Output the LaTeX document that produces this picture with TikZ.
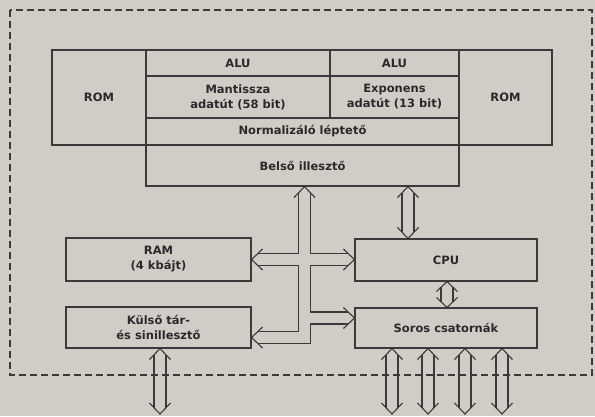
\documentclass[tikz,border=0pt]{standalone}
\usepackage{fontspec}
\setmainfont{DejaVu Sans}
\usetikzlibrary{calc}
\definecolor{bg}{RGB}{208,204,198}
\definecolor{ink}{RGB}{62,56,58}
\definecolor{txt}{RGB}{45,40,44}
% box from (x1,y1) to (x2,y2), y measured downward in px
\newcommand\blkbox[6]{%
  \node[blk, minimum width={(#4)-(#2)}, minimum height={(#5)-(#3)}]
    (#1) at ({((#2)+(#4))/2},{-((#3)+(#5))/2}) {#6};}
% two-headed hollow vertical arrow: optional head length, top tip, bottom tip
\newcommand\vdbl[3][11]{%
  \draw[wire] ($(#2)+(-10.5,-#1)$) -- (#2) -- ($(#2)+(10.5,-#1)$);
  \draw[wire] ($(#3)+(-10.5,#1)$) -- (#3) -- ($(#3)+(10.5,#1)$);
  \draw[wire] ($(#2)+(-6,{-#1*0.5714})$) -- ($(#3)+(-6,{#1*0.5714})$);
  \draw[wire] ($(#2)+(6,{-#1*0.5714})$) -- ($(#3)+(6,{#1*0.5714})$);}
\begin{document}
\begin{tikzpicture}[x=1pt,y=1pt,
  blk/.style={draw=ink, line width=1.1pt, rectangle, inner sep=0pt, align=center,
    text=txt, font=\bfseries\fontsize{11.5}{15}\selectfont},
  wire/.style={draw=ink, line width=1.1pt, line join=miter},
  frame/.style={draw=ink, line width=1.2pt, dash pattern=on 7pt off 4pt}]
\fill[bg] (0,0) rectangle (595,-416);
\useasboundingbox (0,0) rectangle (595,-416);
\draw[frame] (10,-10) rectangle (592,-375);

\blkbox{romL}{52}{50}{146}{145}{ROM}
\blkbox{aluA}{146}{50}{330}{76}{ALU}
\blkbox{mant}{146}{76}{330}{118}{Mantissza\\adatút (58 bit)}
\blkbox{aluB}{330}{50}{459}{76}{ALU}
\blkbox{expo}{330}{76}{459}{118}{Exponens\\adatút (13 bit)}
\blkbox{romR}{459}{50}{552}{145}{ROM}
\blkbox{norm}{146}{118}{459}{145}{Normalizáló léptető}
\blkbox{belso}{146}{145}{459}{186}{Belső illesztő}
\blkbox{ram}{66}{238}{251}{281}{RAM\\(4 kbájt)}
\blkbox{kulso}{66}{307}{251}{348}{Külső tár-\\és sinillesztő}
\blkbox{cpu}{355}{239}{537}{281}{CPU}
\blkbox{soros}{355}{308}{537}{348}{Soros csatornák}

% bus tips
\coordinate (busx) at (304.5,0);
\coordinate (T) at (belso.south -| busx);
\coordinate (R) at (ram.east);
\coordinate (C) at (cpu.west |- ram.east);
\coordinate (K) at ($(kulso.east)+(0,-10)$);
\coordinate (S) at ($(soros.west)+(0,10)$);

% bus outline
\draw[wire] ($(T)+(-6,-6.29)$) -- ($(T |- R)+(-6,6)$) -- ($(R)+(6.29,6)$);
\draw[wire] ($(R)+(6.29,-6)$) -- ($(T |- R)+(-6,-6)$) -- ($(T |- K)+(-6,6)$) -- ($(K)+(6.29,6)$);
\draw[wire] ($(K)+(6.29,-6)$) -- ($(T |- K)+(6,-6)$) -- ($(T |- S)+(6,-6)$) -- ($(S)+(-6.29,-6)$);
\draw[wire] ($(S)+(-6.29,6)$) -- ($(T |- S)+(6,6)$) -- ($(T |- C)+(6,-6)$) -- ($(C)+(-6.29,-6)$);
\draw[wire] ($(C)+(-6.29,6)$) -- ($(T |- C)+(6,6)$) -- ($(T)+(6,-6.29)$);
% bus heads
\draw[wire] ($(T)+(-10.5,-11)$) -- (T) -- ($(T)+(10.5,-11)$);
\draw[wire] ($(R)+(11,10.5)$) -- (R) -- ($(R)+(11,-10.5)$);
\draw[wire] ($(K)+(11,10.5)$) -- (K) -- ($(K)+(11,-10.5)$);
\draw[wire] ($(C)+(-11,10.5)$) -- (C) -- ($(C)+(-11,-10.5)$);
\draw[wire] ($(S)+(-11,10.5)$) -- (S) -- ($(S)+(-11,-10.5)$);

% belso - cpu
\coordinate (bcx) at (408,0);
\coordinate (bc1) at (belso.south -| bcx);
\coordinate (bc2) at (cpu.north -| bcx);
\vdbl{bc1}{bc2}
% cpu - soros
\coordinate (csx) at (447,0);
\coordinate (cs1) at (cpu.south -| csx);
\coordinate (cs2) at (soros.north -| csx);
\vdbl[10]{cs1}{cs2}
% soros outputs
\foreach \x [count=\i] in {392,428,465,502}{
  \coordinate (so\i) at (soros.south -| \x,0);
  \coordinate (se\i) at (\x,-414);
  \vdbl{so\i}{se\i}
}
% kulso output
\coordinate (ko) at (kulso.south -| 160,0);
\coordinate (ke) at (160,-414);
\vdbl{ko}{ke}
\end{tikzpicture}
\end{document}
